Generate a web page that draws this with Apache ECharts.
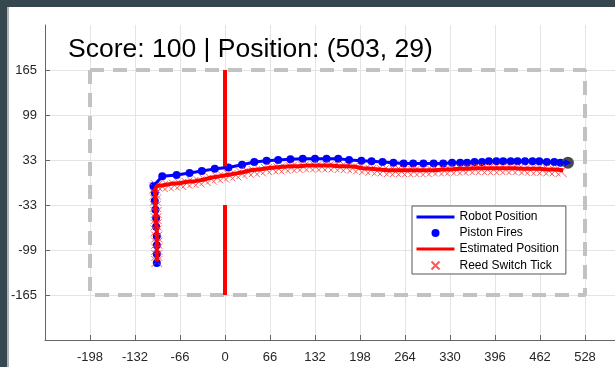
<!DOCTYPE html>
<html>
<head>
<meta charset="utf-8">
<script src="https://cdn.jsdelivr.net/npm/echarts@6/dist/echarts.min.js"></script>
<style>
html,body{margin:0;padding:0;background:#fff;}
#chart{width:615px;height:367px;}
</style>
</head>
<body>
<div id="chart"></div>
<script>
// ---- data (field units) ----
var titleText = 'Score: 100 | Position: (503, 29)';
var robotX = [-100,-100,-100,-100,-101,-101,-102,-103,-103,-105,-92,-71,-52,-34,-15,5,25,43,61,78,96,114,132,149,166,182,200,215,231,247,262,276,291,306,320,333,345,355,366,377,387,398,408,419,429,440,451,461,472,483,492,503];
var robotY = [-118,-105,-92,-79,-65,-52,-40,-27,-15,-5,9,11,14,17,20,22,26,30,32,33,34,35,35,35,35,33,32,31,30,29,28,28,28,28,28,29,29,29,30,30,31,31,31,31,31,31,31,31,30,30,29,29];
var estX = [-100,-100,-100,-100,-100,-101,-101,-102,-102,-103,-100,-91,-79,-67,-56,-44,-32,-21,-9,3,15,26,38,50,62,73,85,97,109,120,132,144,155,167,179,191,202,214,226,238,249,261,273,285,296,308,320,331,343,355,367,378,390,402,414,425,437,449,461,472,484,496];
var estY = [-116,-105,-93,-81,-70,-58,-46,-35,-23,-11,-5,-4,-2,-1,1,2,4,7,9,11,13,15,18,19,21,22,23,24,24,25,25,25,25,24,24,23,21,20,19,18,18,18,18,18,18,18,19,19,20,20,21,21,21,21,21,21,20,20,20,19,19,18];
var reedX = [-100,-100,-100,-100,-100,-101,-101,-101,-101,-102,-102,-102,-103,-100,-92,-83,-74,-65,-56,-47,-38,-29,-20,-11,-2,7,16,25,34,43,52,61,70,79,88,97,106,115,124,133,142,151,160,169,178,187,196,205,214,223,232,241,250,259,268,277,286,295,304,313,322,331,340,349,358,367,376,385,394,403,412,421,430,439,448,457,466,475,484,493];
var reedY = [-116,-107,-98,-89,-80,-71,-62,-53,-44,-35,-26,-17,-8,-5,-6,-5,-4,-3,-1,0,1,3,5,7,8,10,11,13,15,16,17,19,20,20,21,22,22,23,23,23,23,23,23,22,22,21,20,19,18,17,17,16,16,16,16,16,16,16,17,17,17,18,18,18,19,19,19,19,19,19,19,19,19,18,18,18,18,17,17,16];
var boundX = [-198,528,528,-198,-198];
var boundY = [165,165,-165,-165,165];
var gateTopY = [165,20];
var gateBottomY = [-33,-165];
var xTicks = [-264,572,66];   // min, max, step
var yTicks = [-231,231,66];

function pairs(xs, ys){ return xs.map(function(x,i){ return [x, ys[i]]; }); }
var endPt = [[robotX[robotX.length-1], robotY[robotY.length-1]]];

var chart = echarts.init(document.getElementById('chart'), null, {renderer:'canvas'});
var font = 'Liberation Sans, Arial, sans-serif';
var xMark = 'path://M0,0L10,10M10,0L0,10';
var hidden = {color:'rgba(0,0,0,0)', borderColor:'rgba(0,0,0,0)', borderWidth:0, opacity:0};

chart.setOption({
  animation:false,
  backgroundColor:'#ffffff',
  title:{
    text:titleText, left:68, top:36, padding:0,
    textStyle:{fontSize:26.5, fontWeight:'normal', color:'#000', fontFamily:font}
  },
  graphic:[
    {type:'rect', left:0, top:0, shape:{width:615, height:7}, style:{fill:'#37474f'}, z:100},
    {type:'rect', left:0, top:0, shape:{width:7, height:367}, style:{fill:'#37474f'}, z:100},
    {type:'rect', left:7, top:7, shape:{width:2, height:360}, style:{fill:'#aeb5b8'}, z:100}
  ],
  legend:{
    orient:'vertical', left:412, top:206,
    padding:[5,7,2,3], itemGap:4, itemWidth:38, itemHeight:8,
    backgroundColor:'#fff', borderColor:'#555', borderWidth:1,
    textStyle:{fontSize:12, color:'#000', fontFamily:font},
    data:[
      {name:'Robot Position', itemStyle:hidden, lineStyle:{color:'#0000ff', width:3}},
      {name:'Piston Fires'},
      {name:'Estimated Position', itemStyle:hidden, lineStyle:{color:'#ff0000', width:3}},
      {name:'Reed Switch Tick'}
    ]
  },
  grid:{left:45, top:25, width:570, height:315, containLabel:false},
  xAxis:{
    type:'value', min:xTicks[0], max:xTicks[1], interval:xTicks[2],
    axisLine:{show:true, onZero:false, lineStyle:{color:'#666', width:1}},
    axisTick:{show:true, inside:true, length:5, lineStyle:{color:'#666'}},
    axisLabel:{showMinLabel:false, showMaxLabel:false, fontSize:13, color:'#262626', fontFamily:font, margin:11},
    splitLine:{show:true, lineStyle:{color:'#e4e4e4', width:1}}
  },
  yAxis:{
    type:'value', min:yTicks[0], max:yTicks[1], interval:yTicks[2],
    axisLine:{show:true, onZero:false, lineStyle:{color:'#666', width:1}},
    axisTick:{show:true, inside:true, length:5, lineStyle:{color:'#666'}},
    axisLabel:{showMinLabel:false, showMaxLabel:false, fontSize:13, color:'#262626', fontFamily:font, margin:8},
    splitLine:{show:true, showMaxLine:false, lineStyle:{color:'#e4e4e4', width:1}}
  },
  series:[
    {name:'bounds', type:'line', data:pairs(boundX, boundY), symbol:'none', silent:true,
     lineStyle:{color:'#c2c2c2', width:4, type:[14,9], cap:'butt'}},
    {name:'gateTop', type:'line', data:pairs([0,0], gateTopY), symbol:'none',
     lineStyle:{color:'#ff0000', width:4}},
    {name:'gateBottom', type:'line', data:pairs([0,0], gateBottomY), symbol:'none',
     lineStyle:{color:'#ff0000', width:4}},
    {name:'Robot Position', type:'line', data:pairs(robotX, robotY), symbol:'none',
     itemStyle:{color:'#0000ff'}, lineStyle:{color:'#0000ff', width:3}},
    {name:'Piston Fires', type:'scatter', data:pairs(robotX, robotY), symbol:'circle', symbolSize:8,
     itemStyle:{color:'#0000ff', opacity:1}},
    {name:'Estimated Position', type:'line', data:pairs(estX, estY), symbol:'none',
     itemStyle:{color:'#ff0000'}, lineStyle:{color:'#ff0000', width:4}},
    {name:'Reed Switch Tick', type:'scatter', data:pairs(reedX, reedY), symbol:xMark, symbolSize:11,
     itemStyle:{color:'none', borderColor:'#ff3c3c', borderWidth:1, opacity:0.85}},
    {name:'endRing', type:'scatter', data:endPt, symbol:'circle', symbolSize:12,
     itemStyle:{color:'#4a4a4a', opacity:1}},
    {name:'endArrow', type:'scatter', data:endPt, symbol:'triangle', symbolSize:7, symbolRotate:-90,
     itemStyle:{color:'#0000ff', opacity:1}}
  ]
});
</script>
</body>
</html>
